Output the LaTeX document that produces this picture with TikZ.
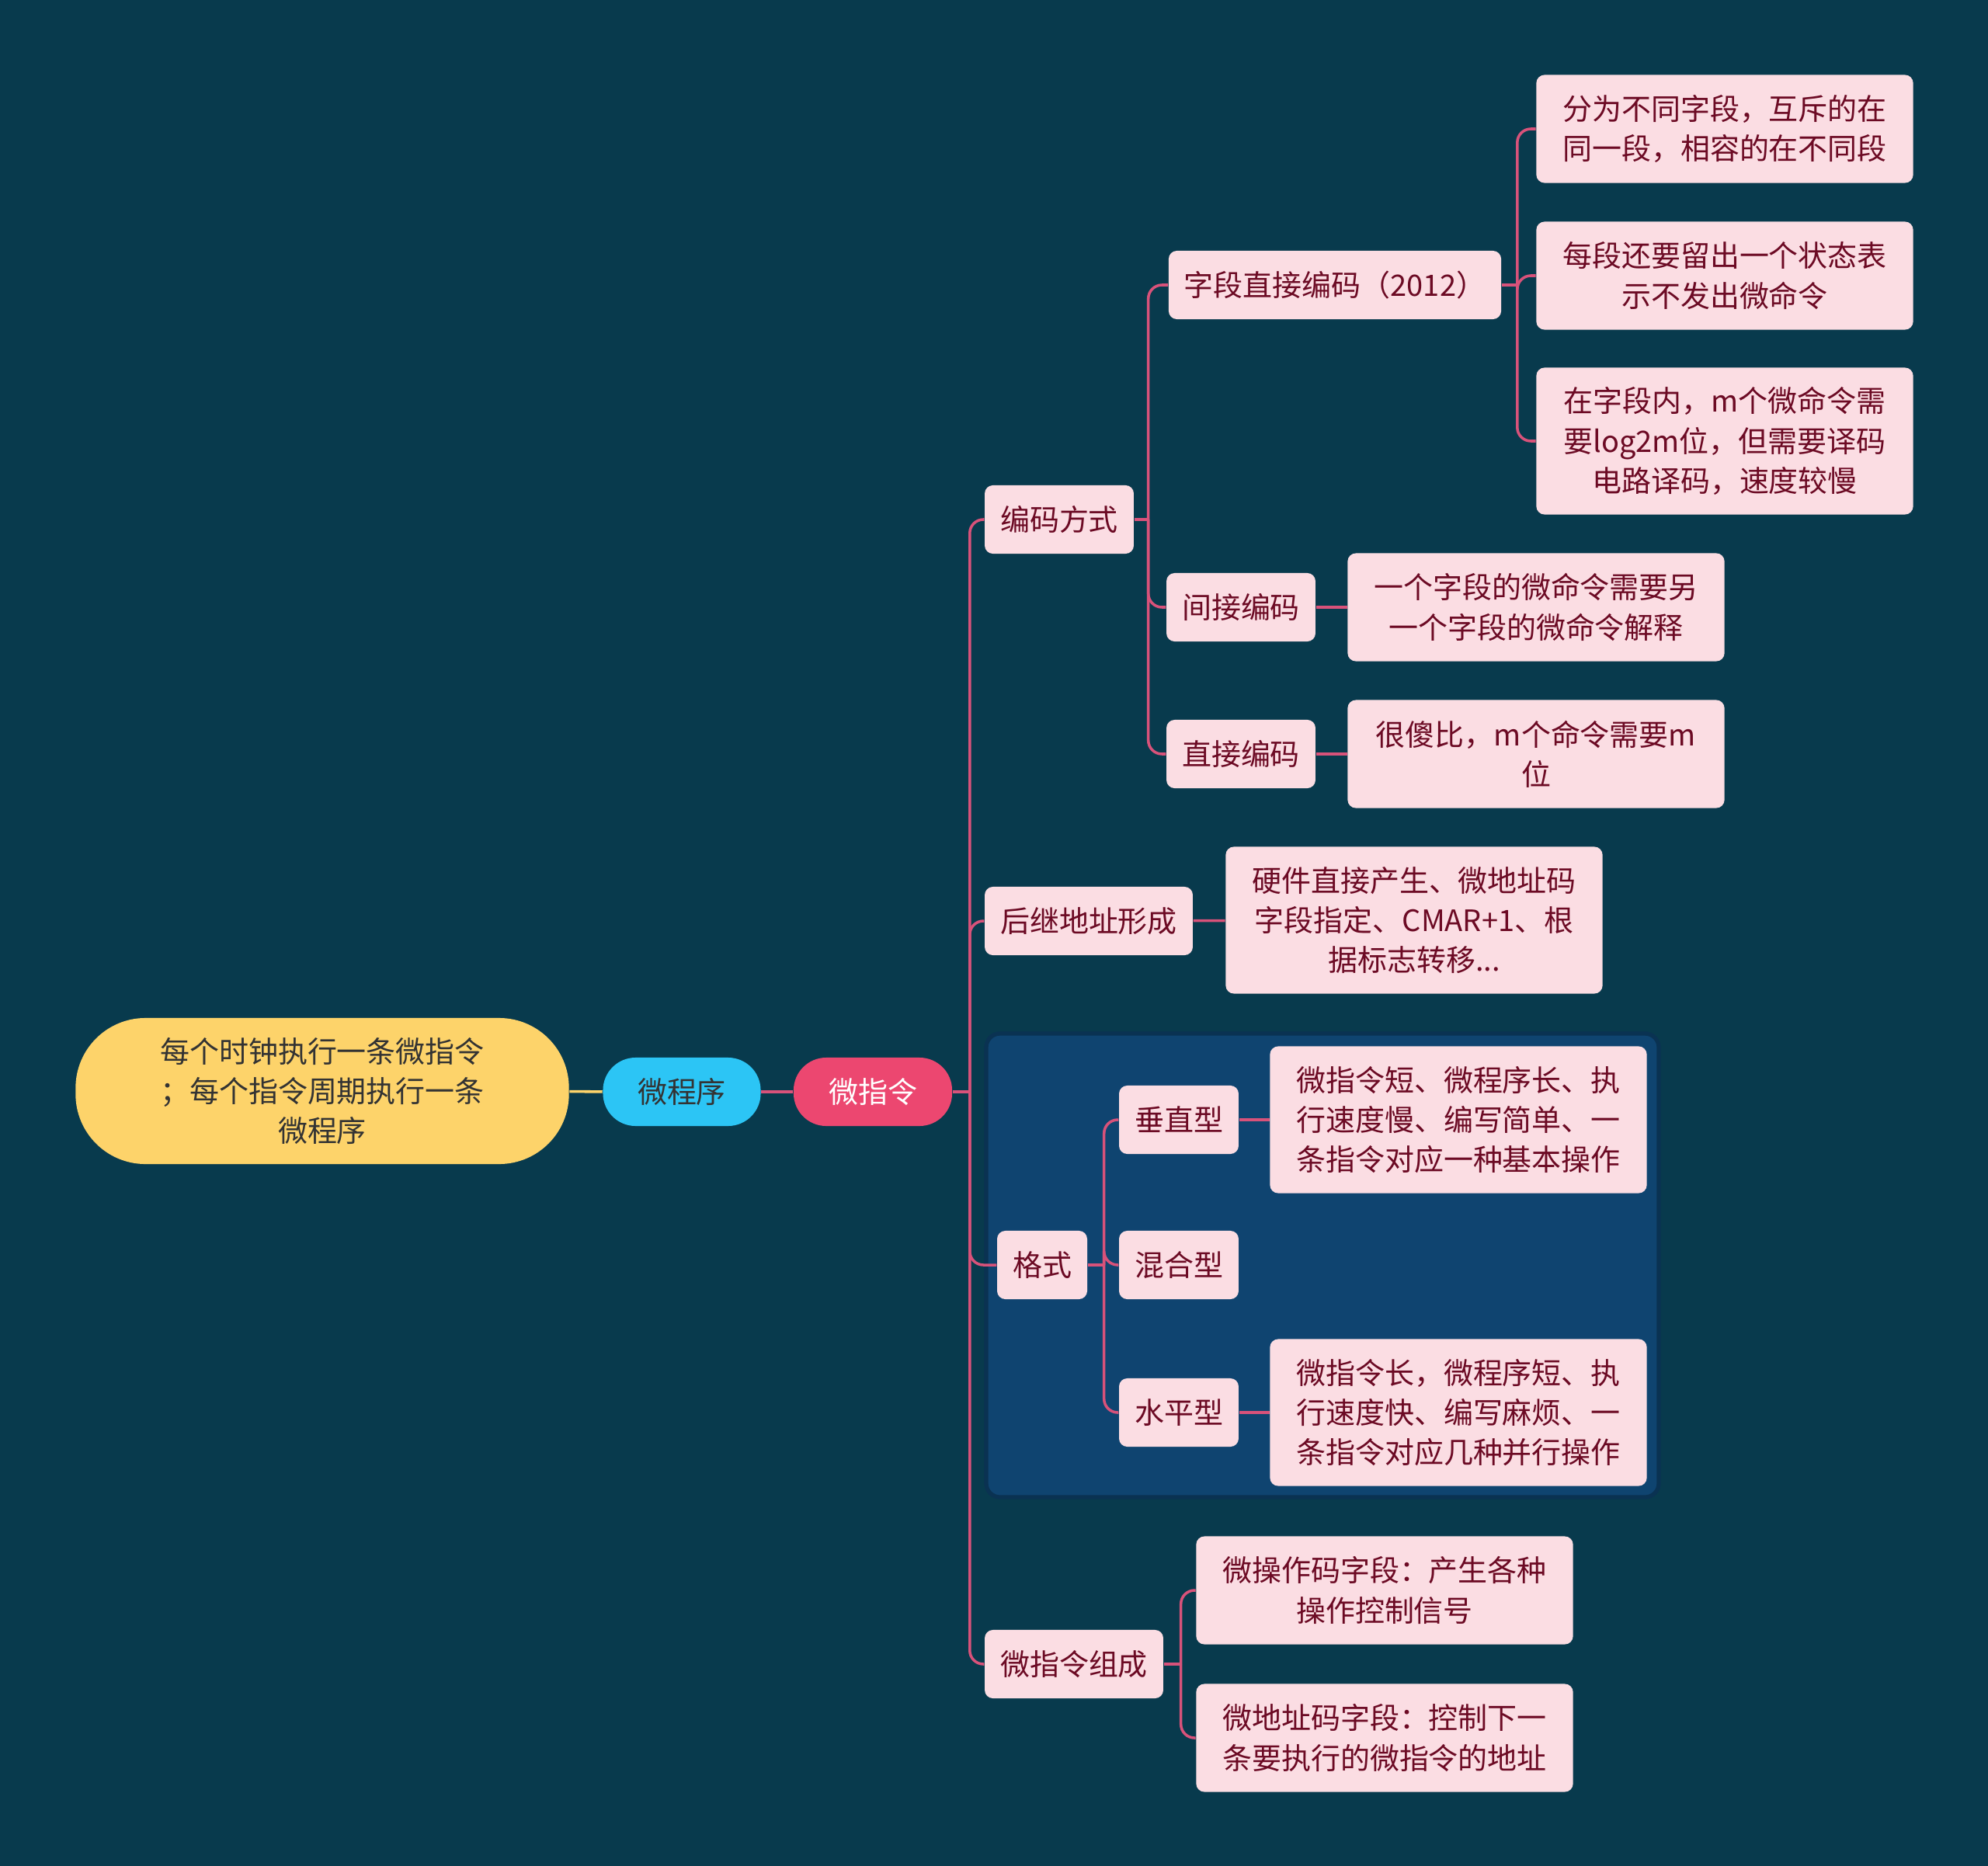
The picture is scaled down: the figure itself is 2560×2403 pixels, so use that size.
\documentclass[tikz,border=0pt]{standalone}
\usepackage{fontspec}
\setmainfont{Noto Sans CJK SC}
\usepackage{xcolor}
\usetikzlibrary{positioning}

\definecolor{bgdark}{RGB}{8,58,77}
\definecolor{boxpink}{RGB}{251,221,227}
\definecolor{txtred}{RGB}{108,10,36}
\definecolor{linkpink}{RGB}{216,82,122}
\definecolor{rootyel}{RGB}{253,211,106}
\definecolor{progblue}{RGB}{44,197,245}
\definecolor{instrred}{RGB}{236,71,112}
\definecolor{grpblue}{RGB}{15,68,112}
\definecolor{grpedge}{RGB}{10,50,82}

\pgfdeclarelayer{backdrop}
\pgfdeclarelayer{links}
\pgfsetlayers{backdrop,links,main}

\begin{document}
\begin{tikzpicture}[
    x=0.01cm, y=-0.01cm,
    font=\fontsize{10.8}{14.6}\selectfont,
    sub/.style={draw=none, fill=boxpink, text=txtred, rounded corners=3pt, align=center, inner xsep=0.2cm, minimum height=0.88cm},
    leaf/.style={draw=none, fill=boxpink, text=txtred, rounded corners=3pt, align=center, minimum width=4.85cm, minimum height=1.39cm},
    leaftall/.style={leaf, minimum height=1.89cm},
    branch/.style={draw=linkpink, line width=1pt, rounded corners=5pt}
]
\begin{pgfonlayer}{backdrop}
\fill[bgdark] (0,0) rectangle (2560,2403);
% group frame behind the format branch
\draw[fill=grpblue, draw=grpedge, line width=1.5pt, rounded corners=5pt] (1270,1331) rectangle (2136,1928);
\end{pgfonlayer}
\useasboundingbox (0,0) rectangle (2560,2403);

% main chain
\node[fill=rootyel, text=black!80, rounded corners=0.9cm, align=center, minimum width=6.35cm, minimum height=1.88cm] (root) at (415,1405) {每个时钟执行一条微指令\\；每个指令周期执行一条\\微程序};
\node[fill=progblue, text=black!80, rounded corners=0.42cm, minimum width=2.03cm, minimum height=0.88cm] (prog) at (878,1406) {微程序};
\node[fill=instrred, text=white, rounded corners=0.42cm, minimum width=2.04cm, minimum height=0.88cm] (instr) at (1124,1406) {微指令};

% second level
\node[sub] (encode) at (1364,669) {编码方式};
\node[sub] (succ) at (1402,1186) {后继地址形成};
\node[sub] (fmt) at (1342,1629) {格式};
\node[sub] (compose) at (1383,2143) {微指令组成};

% encoding
\node[sub] (fielddir) at (1719,367) {字段直接编码（2012）};
\node[sub] (indirect) at (1598,782) {间接编码};
\node[sub] (direct) at (1598,971) {直接编码};
\node[leaf] (fieldA) at (2221,166) {分为不同字段，互斥的在\\同一段，相容的在不同段};
\node[leaf] (fieldB) at (2221,355) {每段还要留出一个状态表\\示不发出微命令};
\node[leaftall] (fieldC) at (2221,568) {在字段内，m个微命令需\\要log2m位，但需要译码\\电路译码，速度较慢};
\node[leaf] (indirectNote) at (1978,782) {一个字段的微命令需要另\\一个字段的微命令解释};
\node[leaf] (directNote) at (1978,971) {很傻比，m个命令需要m\\位};

% successor address
\node[leaftall] (succNote) at (1821,1185) {硬件直接产生、微地址码\\字段指定、CMAR+1、根\\据标志转移...};

% format
\node[sub] (vert) at (1518,1442) {垂直型};
\node[sub] (mixed) at (1518,1629) {混合型};
\node[sub] (horiz) at (1518,1819) {水平型};
\node[leaftall] (vertNote) at (1878,1442) {微指令短、微程序长、执\\行速度慢、编写简单、一\\条指令对应一种基本操作};
\node[leaftall] (horizNote) at (1878,1819) {微指令长，微程序短、执\\行速度快、编写麻烦、一\\条指令对应几种并行操作};

% composition
\node[leaf] (opField) at (1783,2048) {微操作码字段：产生各种\\操作控制信号};
\node[leaf] (addrField) at (1783,2238) {微地址码字段：控制下一\\条要执行的微指令的地址};

% split points
\coordinate (instrJ) at ([xshift=0.22cm]instr.east);
\coordinate (encodeJ) at ([xshift=0.18cm]encode.east);
\coordinate (fielddirJ) at ([xshift=0.2cm]fielddir.east);
\coordinate (fmtJ) at ([xshift=0.21cm]fmt.east);
\coordinate (composeJ) at ([xshift=0.22cm]compose.east);

% connectors
\begin{pgfonlayer}{links}
\draw[draw=rootyel, line width=1pt] (root) -- (prog);
\draw[branch] (prog) -- (instr);
\draw[branch] (instr.east) -- (instrJ);
\foreach \c in {encode,succ,fmt,compose}
  \draw[branch] (instrJ) |- (\c.west);
\draw[branch] (encode.east) -- (encodeJ);
\foreach \c in {fielddir,indirect,direct}
  \draw[branch] (encodeJ) |- (\c.west);
\draw[branch] (fielddir.east) -- (fielddirJ);
\foreach \c in {fieldA,fieldB,fieldC}
  \draw[branch] (fielddirJ) |- (\c.west);
\draw[branch] (indirect) -- (indirectNote);
\draw[branch] (direct) -- (directNote);
\draw[branch] (succ) -- (succNote);
\draw[branch] (fmt.east) -- (fmtJ);
\foreach \c in {vert,mixed,horiz}
  \draw[branch] (fmtJ) |- (\c.west);
\draw[branch] (vert) -- (vertNote);
\draw[branch] (horiz) -- (horizNote);
\draw[branch] (compose.east) -- (composeJ);
\foreach \c in {opField,addrField}
  \draw[branch] (composeJ) |- (\c.west);
\end{pgfonlayer}
\end{tikzpicture}
\end{document}
